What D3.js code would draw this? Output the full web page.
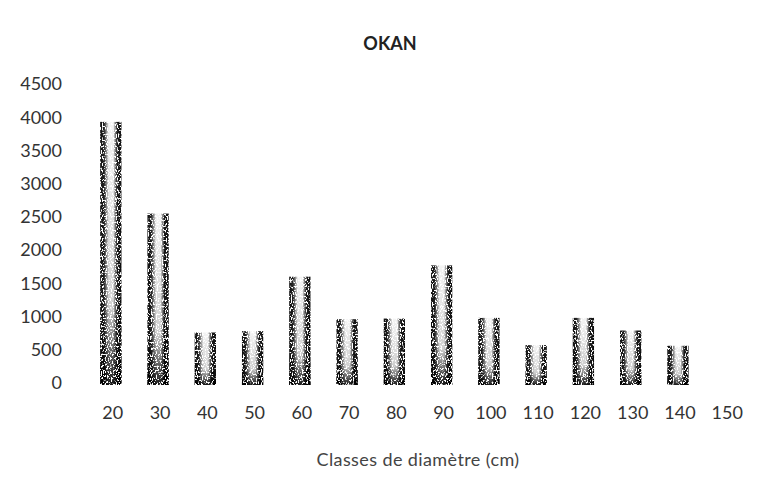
<!DOCTYPE html>
<html>
<head>
<meta charset="utf-8">
<script src="https://cdn.jsdelivr.net/npm/d3@7"></script>
<style>
  body { margin: 0; background: #fff; }
  svg { display: block; font-family: Lato, "Open Sans", sans-serif; }
</style>
</head>
<body>
<svg id="chart"></svg>
<script>
// classes de diamètre et effectifs
const classes = ["20", "30", "40", "50", "60", "70", "80", "90", "100", "110", "120", "130", "140", "150"];
const effectifs = [3930, 2550, 760, 780, 1600, 960, 970, 1770, 980, 570, 980, 790, 560, 0];
const yTicks = [0, 500, 1000, 1500, 2000, 2500, 3000, 3500, 4000, 4500];

const width = 776, height = 477;
const margin = { top: 84, right: 26, bottom: 94, left: 86 };

const svg = d3.select("#chart")
    .attr("width", width)
    .attr("height", height);

/* ---------- scales ---------- */
const x = d3.scaleBand()
    .domain(classes)
    .range([margin.left, width - margin.right])
    .paddingInner(0.55)
    .paddingOuter(0.3);

const y = d3.scaleLinear()
    .domain([0, 4500])
    .range([height - margin.bottom, margin.top]);

/* ---------- texture for the scanned bars ---------- */
const defs = svg.append("defs");

const hGrad = defs.append("linearGradient").attr("id", "hGrad");
hGrad.append("stop").attr("offset", "0%").attr("stop-color", "#111");
hGrad.append("stop").attr("offset", "18%").attr("stop-color", "#222");
hGrad.append("stop").attr("offset", "40%").attr("stop-color", "#f4f4f4");
hGrad.append("stop").attr("offset", "62%").attr("stop-color", "#f4f4f4");
hGrad.append("stop").attr("offset", "80%").attr("stop-color", "#1a1a1a");
hGrad.append("stop").attr("offset", "100%").attr("stop-color", "#111");

const vGrad = defs.append("linearGradient").attr("id", "vGrad")
    .attr("x1", 0).attr("y1", 0).attr("x2", 0).attr("y2", 1);
vGrad.append("stop").attr("offset", "0%").attr("stop-color", "#000").attr("stop-opacity", 0);
vGrad.append("stop").attr("offset", "70%").attr("stop-color", "#000").attr("stop-opacity", 0.15);
vGrad.append("stop").attr("offset", "100%").attr("stop-color", "#000").attr("stop-opacity", 0.9);

const speckle = defs.append("filter").attr("id", "speckle")
    .attr("x", 0).attr("y", 0).attr("width", 1).attr("height", 1);
speckle.append("feTurbulence")
    .attr("type", "fractalNoise")
    .attr("baseFrequency", "0.8 0.5")
    .attr("numOctaves", 2)
    .attr("seed", 5)
    .attr("result", "noise");
speckle.append("feColorMatrix")
    .attr("in", "noise")
    .attr("type", "matrix")
    .attr("values", "0 0 0 0 0  0 0 0 0 0  0 0 0 0 0  0 0 0 10 -3.8")
    .attr("result", "mask");
speckle.append("feComposite")
    .attr("in", "SourceGraphic")
    .attr("in2", "mask")
    .attr("operator", "in");

/* ---------- title ---------- */
svg.append("text")
    .attr("x", 390)
    .attr("y", 50)
    .attr("text-anchor", "middle")
    .attr("font-size", "18px")
    .attr("font-weight", "bold")
    .attr("fill", "#222")
    .text("OKAN");

/* ---------- y axis (labels only) ---------- */
svg.append("g")
    .selectAll("text")
    .data(yTicks)
    .join("text")
    .attr("x", 62)
    .attr("y", d => y(d))
    .attr("dy", "0.35em")
    .attr("text-anchor", "end")
    .attr("font-size", "18px")
    .attr("fill", "#333")
    .text(d => d);

/* ---------- bars ---------- */
const bars = svg.append("g").attr("filter", "url(#speckle)");
const barData = classes.map((c, i) => ({ c, v: effectifs[i] })).filter(d => d.v > 0);

bars.selectAll("rect.base")
    .data(barData)
    .join("rect")
    .attr("class", "base")
    .attr("x", d => x(d.c))
    .attr("y", d => y(d.v))
    .attr("width", x.bandwidth())
    .attr("height", d => y(0) - y(d.v) + 2)
    .attr("fill", "url(#hGrad)");

bars.selectAll("rect.shade")
    .data(barData)
    .join("rect")
    .attr("class", "shade")
    .attr("x", d => x(d.c))
    .attr("y", d => y(d.v))
    .attr("width", x.bandwidth())
    .attr("height", d => y(0) - y(d.v) + 2)
    .attr("fill", "url(#vGrad)");

/* ---------- x axis (labels only) ---------- */
svg.append("g")
    .selectAll("text")
    .data(classes)
    .join("text")
    .attr("x", d => x(d) + x.bandwidth() / 2 + 2)
    .attr("y", 413)
    .attr("dy", "0.35em")
    .attr("text-anchor", "middle")
    .attr("font-size", "18px")
    .attr("fill", "#333")
    .text(d => d);

svg.append("text")
    .attr("x", 418)
    .attr("y", 466)
    .attr("text-anchor", "middle")
    .attr("font-size", "18px")
    .attr("letter-spacing", "0.4px")
    .attr("fill", "#444")
    .text("Classes de diamètre (cm)");
</script>
</body>
</html>
